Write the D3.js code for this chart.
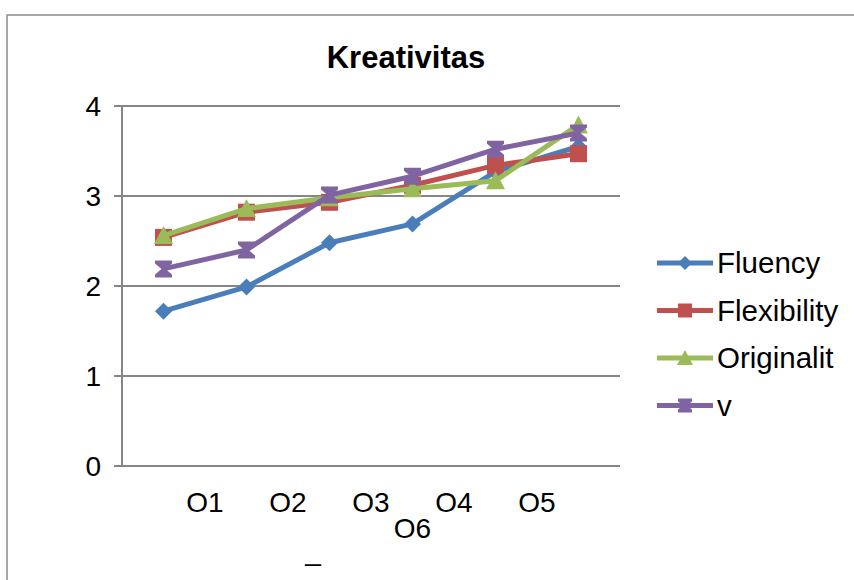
<!DOCTYPE html>
<html>
<head>
<meta charset="utf-8">
<script src="https://cdn.jsdelivr.net/npm/d3@7"></script>
<style>
  html, body { margin: 0; padding: 0; background: #fff; }
  svg { display: block; font-family: "Liberation Sans", Arial, sans-serif; }
</style>
</head>
<body>
<svg id="chart" width="854" height="580"></svg>
<script>
// Observation points along the x axis
const categories = ["O1", "O2", "O3", "O4", "O5", "O6"];
const tickLabels = ["O1", "O2", "O3", "O4", "O5", "O6"];
const yTicks = [0, 1, 2, 3, 4];

// Mean score per aspect of creativity
const fluency     = [1.72, 1.99, 2.48, 2.69, 3.27, 3.55];
const flexibility = [2.54, 2.82, 2.93, 3.12, 3.34, 3.47];
const originalit  = [2.56, 2.86, 2.98, 3.08, 3.17, 3.79];
const v           = [2.19, 2.40, 3.01, 3.22, 3.52, 3.70];

const seriesNames = ["Fluency", "Flexibility", "Originalit", "v"];
const seriesValues = [fluency, flexibility, originalit, v];
const seriesColors = ["#4A7EBB", "#C0504D", "#9BBB59", "#8064A2"];
const seriesMarkers = ["diamond", "square", "triangle", "hourglass"];

const svg = d3.select("#chart");

const plot = { left: 122, right: 620, top: 106, bottom: 466 };

const x = d3.scaleBand().domain(categories).range([plot.left, plot.right]);
const y = d3.scaleLinear().domain([0, 4]).range([plot.bottom, plot.top]);

// Outer chart frame
svg.append("rect")
  .attr("x", 7).attr("y", 15)
  .attr("width", 900).attr("height", 700)
  .attr("fill", "none").attr("stroke", "#8c8c8c").attr("stroke-width", 1.5);

// Title
svg.append("text")
  .attr("x", 406).attr("y", 68)
  .attr("text-anchor", "middle")
  .attr("font-size", 31).attr("font-weight", "bold")
  .attr("fill", "#000")
  .text("Kreativitas");

// Horizontal gridlines with tick stubs left of the axis
svg.append("g").selectAll("line")
  .data(yTicks)
  .join("line")
  .attr("x1", plot.left - 8).attr("x2", plot.right)
  .attr("y1", d => y(d)).attr("y2", d => y(d))
  .attr("stroke", "#868686").attr("stroke-width", 2);

// Vertical axis line
svg.append("line")
  .attr("x1", plot.left).attr("x2", plot.left)
  .attr("y1", y(4)).attr("y2", y(0))
  .attr("stroke", "#868686").attr("stroke-width", 2);

// Y tick labels
svg.append("g").selectAll("text")
  .data(yTicks)
  .join("text")
  .attr("x", 101).attr("y", d => y(d) + 10)
  .attr("text-anchor", "end")
  .attr("font-size", 28)
  .attr("fill", "#000")
  .text(d => d);

// X tick labels: first five on one row, the last one wrapped to a second row
svg.append("g").selectAll("text")
  .data(tickLabels)
  .join("text")
  .attr("x", (d, i) => i < 5
    ? x(categories[i]) + x.bandwidth()
    : x(categories[3]) + x.bandwidth() / 2)
  .attr("y", (d, i) => i < 5 ? 512 : 538)
  .attr("text-anchor", "middle")
  .attr("font-size", 28)
  .attr("fill", "#000")
  .text(d => d);

// Axis title
svg.append("text")
  .attr("x", 313).attr("y", 560)
  .attr("text-anchor", "middle")
  .attr("font-size", 28)
  .attr("fill", "#000")
  .text("_");

function markerPath(type, s) {
  const h = s / 2;
  switch (type) {
    case "diamond":
      return `M0,${-h}L${h},0L0,${h}L${-h},0Z`;
    case "square":
      return `M${-h},${-h}H${h}V${h}H${-h}Z`;
    case "triangle":
      return `M0,${-h - 1}L${h + 1},${h}L${-h - 1},${h}Z`;
    case "hourglass":
      return `M${-h},${-h}H${h}V${-h + 3}L2,0L${h},${h - 3}V${h}H${-h}V${h - 3}L-2,0L${-h},${-h + 3}Z`;
  }
}

const line = d3.line()
  .x((d, i) => x(categories[i]) + x.bandwidth() / 2)
  .y(d => y(d));

seriesValues.forEach((vals, si) => {
  const g = svg.append("g");
  g.append("path")
    .attr("d", line(vals))
    .attr("fill", "none")
    .attr("stroke", seriesColors[si])
    .attr("stroke-width", 5)
    .attr("stroke-linejoin", "round");
  g.selectAll("path.m")
    .data(vals)
    .join("path")
    .attr("class", "m")
    .attr("transform", (d, i) => `translate(${x(categories[i]) + x.bandwidth() / 2},${y(d)})`)
    .attr("d", markerPath(seriesMarkers[si], 17))
    .attr("fill", seriesColors[si]);
});

// Legend
const legend = svg.append("g").selectAll("g")
  .data(seriesNames)
  .join("g")
  .attr("transform", (d, i) => `translate(657,${263 + i * 47.5})`);

legend.append("line")
  .attr("x1", 0).attr("x2", 56)
  .attr("y1", 0).attr("y2", 0)
  .attr("stroke", (d, i) => seriesColors[i])
  .attr("stroke-width", 5);

legend.append("path")
  .attr("transform", "translate(28,0)")
  .attr("d", (d, i) => markerPath(seriesMarkers[i], 14))
  .attr("fill", (d, i) => seriesColors[i]);

legend.append("text")
  .attr("x", 60).attr("y", 10)
  .attr("font-size", 29.5)
  .attr("fill", "#000")
  .text(d => d);
</script>
</body>
</html>
